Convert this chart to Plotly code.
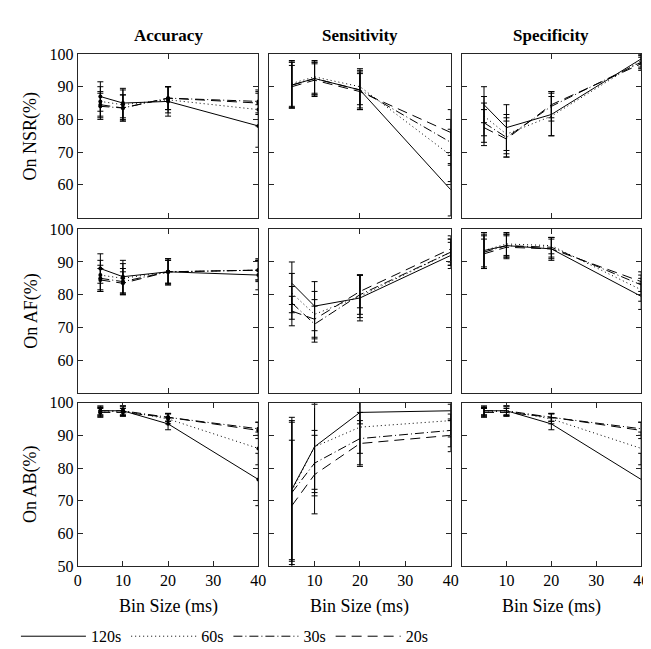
import plotly.graph_objects as go

# ---------------- data ----------------
bins = [5, 10, 20, 40]
series_names = ["120s", "60s", "30s", "20s"]
metric_titles = ["Accuracy", "Sensitivity", "Specificity"]
condition_labels = ["On NSR(%)", "On AF(%)", "On AB(%)"]

# order within each list: 120s, 60s, 30s, 20s
nsr_acc_mean = [[87.0, 85.0, 85.5, 78.0], [85.5, 84.5, 86.0, 83.0], [84.0, 83.5, 86.5, 85.5], [84.5, 83.5, 86.5, 85.0]]
nsr_acc_err = [[4.5, 4.5, 4.5, 6.5], [4.5, 4.5, 4.0, 5.0], [4.0, 4.0, 3.5, 3.5], [4.0, 4.0, 3.5, 3.5]]
nsr_sen_mean = [[90.5, 92.5, 89.0, 58.5], [91.0, 93.0, 90.0, 69.0], [90.5, 92.5, 89.0, 73.0], [90.0, 92.0, 88.5, 76.0]]
nsr_sen_err = [[7.0, 5.0, 6.0, 8.0], [7.0, 5.0, 5.5, 8.0], [7.0, 5.0, 5.5, 7.0], [6.5, 5.0, 5.5, 7.0]]
nsr_spe_mean = [[84.5, 77.5, 81.5, 98.5], [81.0, 75.5, 81.0, 98.0], [79.0, 74.5, 84.0, 97.5], [77.5, 74.0, 84.5, 97.0]]
nsr_spe_err = [[5.5, 7.0, 6.5, 1.5], [6.0, 6.0, 6.0, 2.0], [6.0, 6.0, 4.5, 2.0], [5.5, 5.5, 4.0, 2.0]]

af_acc_mean = [[88.0, 85.5, 87.0, 86.0], [86.0, 85.0, 87.0, 87.5], [85.0, 84.0, 87.0, 87.5], [84.5, 83.5, 87.0, 87.5]]
af_acc_err = [[4.5, 5.0, 4.0, 4.5], [4.5, 4.5, 4.0, 3.5], [4.0, 4.0, 3.5, 3.0], [3.5, 3.5, 3.5, 3.0]]
af_sen_mean = [[83.5, 76.5, 79.0, 92.0], [80.5, 74.0, 79.5, 93.0], [77.5, 71.0, 80.0, 93.0], [75.0, 72.5, 81.0, 94.0]]
af_sen_err = [[6.5, 7.5, 7.0, 4.0], [6.0, 7.0, 6.5, 4.0], [5.0, 5.5, 6.0, 4.0], [4.5, 6.0, 5.0, 4.0]]
af_spe_mean = [[93.5, 95.0, 94.0, 79.5], [93.5, 95.5, 95.0, 81.5], [93.0, 95.0, 94.5, 83.0], [92.5, 94.5, 94.0, 84.0]]
af_spe_err = [[5.5, 3.5, 3.5, 4.0], [5.0, 3.5, 2.5, 3.5], [5.0, 3.5, 3.0, 3.0], [4.5, 3.5, 3.0, 3.0]]

ab_acc_mean = [[97.5, 97.5, 93.5, 76.5], [97.0, 97.5, 95.0, 86.0], [97.5, 97.5, 95.5, 92.0], [97.0, 97.0, 95.5, 91.5]]
ab_acc_err = [[1.5, 1.5, 1.8, 8.0], [1.5, 1.5, 1.5, 5.0], [1.2, 1.2, 1.2, 2.0], [1.2, 1.2, 1.2, 2.5]]
ab_sen_mean = [[73.5, 86.5, 97.0, 97.5], [73.0, 86.5, 92.5, 94.5], [72.5, 81.5, 89.0, 91.5], [68.5, 78.0, 87.5, 90.0]]
ab_sen_err = [[22.0, 14.0, 3.5, 3.0], [21.0, 13.0, 8.0, 5.0], [22.0, 10.0, 8.0, 5.0], [20.0, 12.0, 7.0, 5.0]]
ab_spe_mean = [[97.5, 97.5, 93.5, 76.5], [97.0, 97.5, 95.0, 86.0], [97.5, 97.5, 95.5, 92.0], [97.0, 97.0, 95.5, 91.5]]
ab_spe_err = [[1.5, 1.5, 1.8, 8.0], [1.5, 1.5, 1.5, 5.0], [1.2, 1.2, 1.2, 2.0], [1.2, 1.2, 1.2, 2.5]]

x_ticks_top = [0, 20, 40]
x_ticks_bottom = [0, 10, 20, 30, 40]
y_ticks_top = [60, 70, 80, 90, 100]
y_ticks_bottom = [50, 60, 70, 80, 90, 100]

panels = [
    [(nsr_acc_mean, nsr_acc_err), (nsr_sen_mean, nsr_sen_err), (nsr_spe_mean, nsr_spe_err)],
    [(af_acc_mean, af_acc_err), (af_sen_mean, af_sen_err), (af_spe_mean, af_spe_err)],
    [(ab_acc_mean, ab_acc_err), (ab_sen_mean, ab_sen_err), (ab_spe_mean, ab_spe_err)],
]

# ---------------- styling ----------------
W, H = 651, 649
FONT = "Liberation Serif, Times New Roman, Times, DejaVu Serif, serif"
dashes = ["solid", "1px,3px", "9px,3px,1px,3px", "10px,6px"]
col_px = [(67, 251), (262, 447), (458, 641)]
row_px = [(39, 207), (219, 387), (397, 565)]
AX = "#262626"

fig = go.Figure()
layout = dict(
    width=W, height=H, margin=dict(l=0, r=0, t=0, b=0),
    paper_bgcolor="white", plot_bgcolor="white",
    font=dict(family=FONT, size=16, color="black"),
    showlegend=True,
    legend=dict(orientation="h", x=4 / W, y=1 - 637 / H, xanchor="left", yanchor="middle",
                font=dict(family=FONT, size=16, color="black"), itemwidth=65,
                bgcolor="rgba(0,0,0,0)", tracegroupgap=0),
)

annotations = []
for r in range(3):
    for c in range(3):
        idx = r * 3 + c + 1
        xname = "xaxis" if idx == 1 else f"xaxis{idx}"
        yname = "yaxis" if idx == 1 else f"yaxis{idx}"
        xref = "x" if idx == 1 else f"x{idx}"
        yref = "y" if idx == 1 else f"y{idx}"
        x0, x1 = col_px[c]
        y0, y1 = row_px[r]
        bottom = r == 2
        xt = x_ticks_bottom if bottom else x_ticks_top
        if bottom:
            xtext = [str(v) for v in xt] if c == 0 else [""] + [str(v) for v in xt[1:]]
        else:
            xtext = ["" for v in xt]
        yt = y_ticks_bottom if bottom else y_ticks_top
        layout[xname] = dict(
            domain=[x0 / W, x1 / W], anchor=yref, range=[0, 40],
            tickmode="array", tickvals=xt, ticktext=xtext,
            showline=True, mirror="allticks", linecolor=AX, linewidth=1,
            ticks="inside", ticklen=5, tickcolor=AX, showgrid=False, zeroline=False,
            tickfont=dict(family=FONT, size=16, color="black"),
        )
        layout[yname] = dict(
            domain=[1 - y1 / H, 1 - y0 / H], anchor=xref, range=[50, 100],
            tickmode="array", tickvals=yt, showticklabels=(c == 0),
            showline=True, mirror="allticks", linecolor=AX, linewidth=1,
            ticks="inside", ticklen=5, tickcolor=AX, showgrid=False, zeroline=False,
            tickfont=dict(family=FONT, size=16, color="black"),
        )
        means, errs = panels[r][c]
        for s in range(4):
            fig.add_trace(go.Scatter(
                x=bins, y=means[s], name=series_names[s],
                mode="lines+markers" if c == 0 else "lines",
                line=dict(color="black", width=1, dash=dashes[s]),
                marker=dict(color="black", size=4),
                error_y=dict(type="data", array=errs[s], visible=True,
                             thickness=1, width=3, color="black"),
                xaxis=xref, yaxis=yref,
                showlegend=False, legendgroup=series_names[s],
            ))

# legend entries (line samples only)
for s in range(4):
    fig.add_trace(go.Scatter(
        x=[None], y=[None], name=series_names[s], mode="lines",
        line=dict(color="black", width=1, dash=dashes[s]),
        xaxis="x", yaxis="y", showlegend=True, legendgroup=series_names[s],
    ))

# column titles and x labels
for c in range(3):
    cx = (col_px[c][0] + col_px[c][1]) / 2 / W
    annotations.append(dict(text=f"<b>{metric_titles[c]}</b>", x=cx, y=1 - 20 / H,
                            xref="paper", yref="paper", showarrow=False,
                            xanchor="center", yanchor="middle",
                            font=dict(family=FONT, size=17, color="black")))
    annotations.append(dict(text="Bin Size (ms)", x=cx, y=1 - 606 / H,
                            xref="paper", yref="paper", showarrow=False,
                            xanchor="center", yanchor="middle",
                            font=dict(family=FONT, size=18, color="black")))
# row labels
for r in range(3):
    cy = 1 - (row_px[r][0] + row_px[r][1]) / 2 / H
    annotations.append(dict(text=condition_labels[r], x=19 / W, y=cy,
                            xref="paper", yref="paper", showarrow=False, textangle=-90,
                            xanchor="center", yanchor="middle",
                            font=dict(family=FONT, size=18, color="black")))

layout["annotations"] = annotations
fig.update_layout(**layout)
fig.write_html("out.html")
